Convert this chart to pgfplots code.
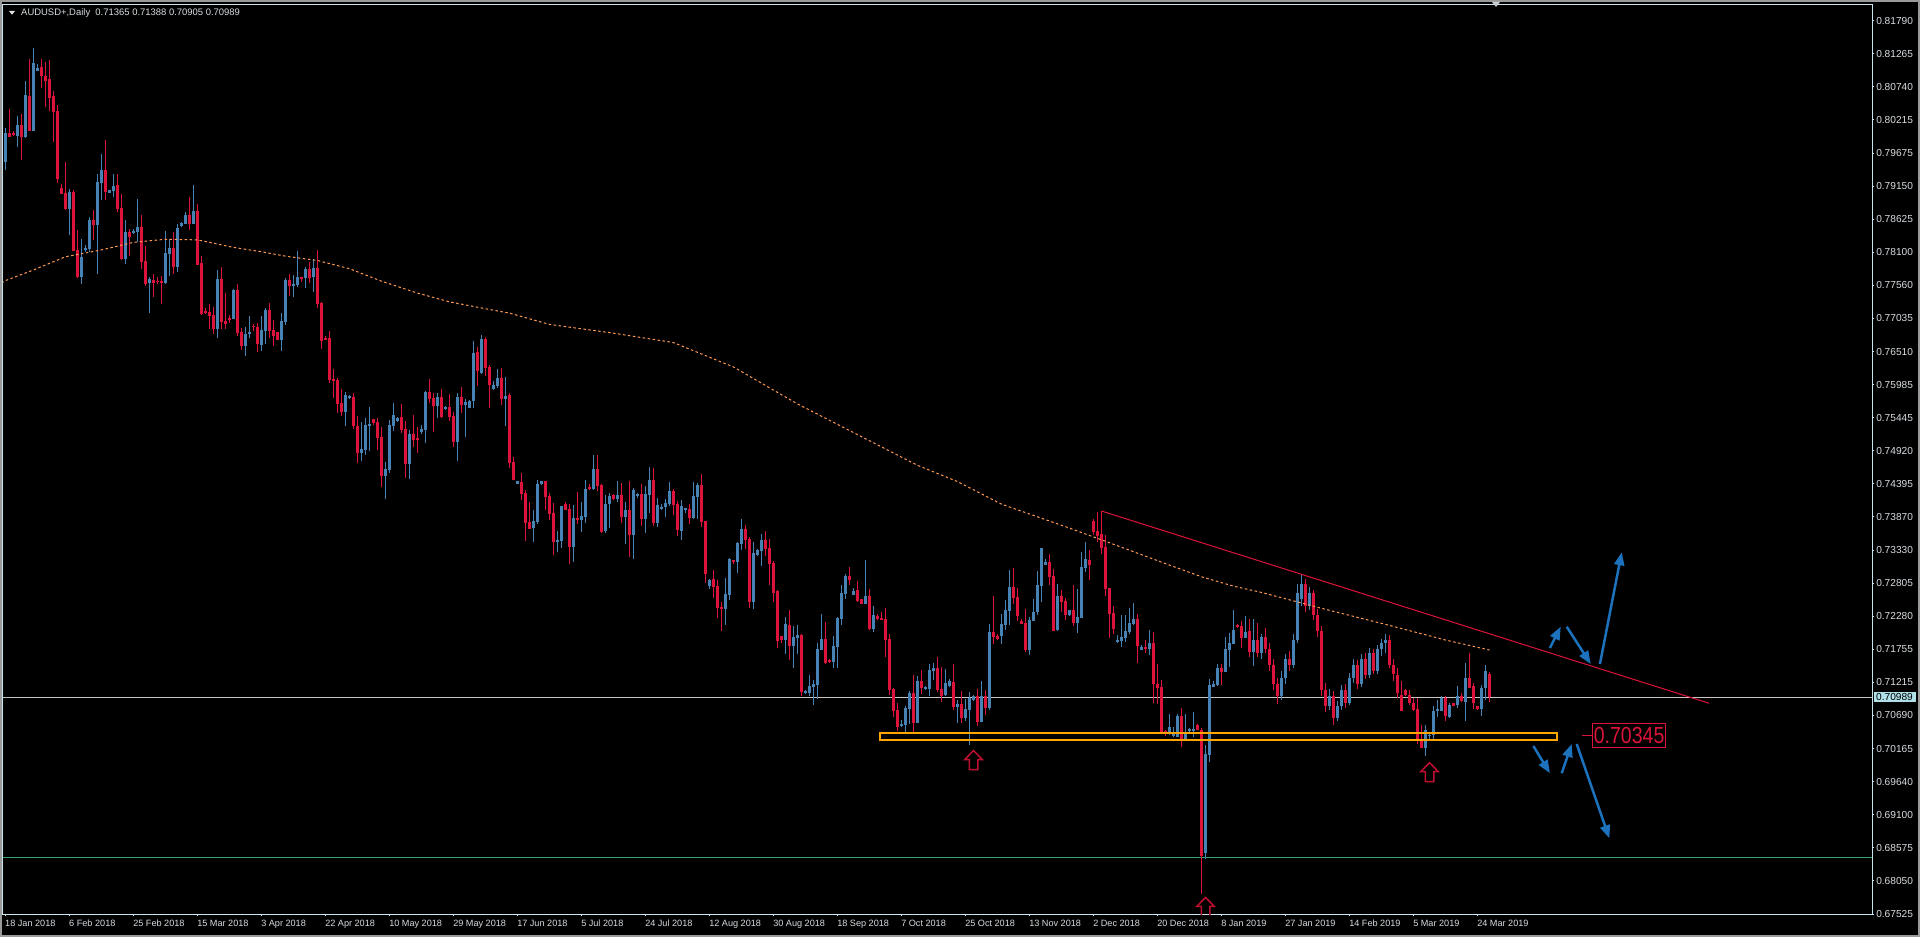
\documentclass[border=0pt]{standalone}
\usepackage{pgfplots}
\pgfplotsset{compat=1.18}
\usepackage{pgfplotstable}
\usepackage{graphicx}
\usepackage{fontspec}
\setmainfont{Liberation Sans}
\usetikzlibrary{arrows.meta}
\definecolor{bull}{HTML}{4682B4}
\definecolor{bear}{HTML}{DC143C}
\definecolor{framec}{HTML}{C9E4EE}
\definecolor{lab}{HTML}{D7DCE0}
\definecolor{maorange}{HTML}{FF9A55}
\definecolor{arrowblue}{HTML}{1C72BD}
\definecolor{zone}{HTML}{FFA500}
\definecolor{pricebox}{HTML}{B0E0E8}
\definecolor{greenline}{HTML}{3AA36A}
\definecolor{winframe}{HTML}{9A9A9A}
\definecolor{upred}{HTML}{C0102F}

\pgfplotstableread{
i o h l c
0 0.7954 0.8007 0.7941 0.8000
3 0.7995 0.8027 0.7978 0.8013
5 0.7993 0.8083 0.7991 0.8060
7 0.8003 0.8135 0.8003 0.8112
8 0.8099 0.8110 0.8098 0.8104
16 0.7879 0.7910 0.7836 0.7906
19 0.7770 0.7831 0.7759 0.7802
20 0.7813 0.7821 0.7810 0.7816
21 0.7815 0.7865 0.7810 0.7861
23 0.7853 0.7934 0.7774 0.7921
24 0.7920 0.7966 0.7892 0.7941
26 0.7904 0.7909 0.7904 0.7909
27 0.7907 0.7935 0.7898 0.7915
30 0.7799 0.7861 0.7790 0.7842
32 0.7840 0.7846 0.7838 0.7843
33 0.7842 0.7894 0.7825 0.7850
36 0.7760 0.7770 0.7713 0.7766
40 0.7761 0.7843 0.7759 0.7808
41 0.7807 0.7831 0.7772 0.7816
43 0.7785 0.7854 0.7777 0.7848
44 0.7851 0.7857 0.7850 0.7856
45 0.7854 0.7874 0.7854 0.7869
47 0.7854 0.7917 0.7854 0.7875
53 0.7687 0.7781 0.7673 0.7767
57 0.7702 0.7751 0.7702 0.7749
60 0.7660 0.7690 0.7644 0.7679
61 0.7678 0.7708 0.7673 0.7682
64 0.7661 0.7708 0.7652 0.7685
65 0.7684 0.7721 0.7663 0.7717
69 0.7669 0.7712 0.7652 0.7700
70 0.7698 0.7769 0.7693 0.7765
72 0.7755 0.7773 0.7738 0.7759
73 0.7757 0.7811 0.7753 0.7770
75 0.7768 0.7785 0.7753 0.7782
77 0.7769 0.7798 0.7745 0.7784
85 0.7554 0.7586 0.7532 0.7581
86 0.7577 0.7581 0.7575 0.7579
89 0.7489 0.7538 0.7476 0.7495
90 0.7494 0.7545 0.7486 0.7533
91 0.7532 0.7562 0.7492 0.7535
95 0.7452 0.7474 0.7415 0.7463
96 0.7462 0.7541 0.7456 0.7533
97 0.7532 0.7569 0.7523 0.7549
98 0.7540 0.7547 0.7539 0.7545
101 0.7471 0.7525 0.7448 0.7519
104 0.7522 0.7533 0.7519 0.7527
105 0.7525 0.7588 0.7504 0.7586
108 0.7564 0.7585 0.7544 0.7578
110 0.7559 0.7564 0.7557 0.7563
113 0.7506 0.7585 0.7476 0.7578
115 0.7566 0.7575 0.7515 0.7571
116 0.7561 0.7574 0.7561 0.7572
117 0.7572 0.7668 0.7561 0.7648
119 0.7617 0.7677 0.7615 0.7671
122 0.7591 0.7604 0.7590 0.7597
123 0.7596 0.7623 0.7593 0.7608
125 0.7575 0.7610 0.7531 0.7580
128 0.7440 0.7444 0.7439 0.7444
132 0.7369 0.7397 0.7347 0.7380
133 0.7379 0.7446 0.7375 0.7439
134 0.7439 0.7444 0.7438 0.7444
138 0.7346 0.7364 0.7331 0.7350
139 0.7348 0.7404 0.7337 0.7404
142 0.7338 0.7406 0.7315 0.7385
144 0.7382 0.7410 0.7363 0.7388
145 0.7387 0.7446 0.7377 0.7431
147 0.7431 0.7486 0.7430 0.7463
150 0.7364 0.7422 0.7361 0.7407
151 0.7407 0.7425 0.7369 0.7420
153 0.7415 0.7444 0.7410 0.7422
155 0.7387 0.7410 0.7343 0.7398
157 0.7358 0.7433 0.7319 0.7430
158 0.7420 0.7425 0.7417 0.7423
160 0.7383 0.7436 0.7361 0.7423
161 0.7422 0.7466 0.7393 0.7446
163 0.7377 0.7417 0.7371 0.7406
164 0.7399 0.7407 0.7398 0.7402
165 0.7402 0.7415 0.7387 0.7409
166 0.7407 0.7442 0.7404 0.7428
169 0.7364 0.7414 0.7350 0.7404
170 0.7399 0.7401 0.7393 0.7400
172 0.7385 0.7442 0.7383 0.7420
173 0.7418 0.7441 0.7383 0.7438
176 0.7276 0.7288 0.7272 0.7286
180 0.7240 0.7289 0.7214 0.7264
181 0.7262 0.7321 0.7254 0.7319
183 0.7315 0.7347 0.7297 0.7345
184 0.7343 0.7383 0.7334 0.7367
187 0.7251 0.7347 0.7240 0.7329
188 0.7326 0.7335 0.7324 0.7334
189 0.7332 0.7359 0.7308 0.7350
195 0.7190 0.7227 0.7168 0.7216
197 0.7181 0.7212 0.7145 0.7195
198 0.7193 0.7214 0.7168 0.7198
200 0.7107 0.7110 0.7104 0.7108
201 0.7106 0.7134 0.7101 0.7117
202 0.7115 0.7126 0.7086 0.7120
203 0.7118 0.7185 0.7096 0.7176
204 0.7174 0.7232 0.7174 0.7192
207 0.7155 0.7197 0.7145 0.7181
208 0.7179 0.7227 0.7145 0.7225
209 0.7224 0.7278 0.7214 0.7265
210 0.7264 0.7296 0.7256 0.7292
212 0.7262 0.7273 0.7262 0.7268
215 0.7248 0.7318 0.7248 0.7260
217 0.7208 0.7244 0.7203 0.7230
224 0.7054 0.7062 0.7051 0.7055
225 0.7054 0.7085 0.7043 0.7082
226 0.7080 0.7109 0.7056 0.7106
228 0.7058 0.7133 0.7058 0.7125
230 0.7113 0.7117 0.7110 0.7114
231 0.7112 0.7152 0.7101 0.7142
232 0.7141 0.7153 0.7126 0.7145
235 0.7102 0.7144 0.7101 0.7121
236 0.7117 0.7128 0.7115 0.7125
238 0.7083 0.7094 0.7058 0.7088
240 0.7066 0.7096 0.7061 0.7080
241 0.7078 0.7107 0.7022 0.7098
242 0.7094 0.7102 0.7093 0.7101
244 0.7059 0.7125 0.7059 0.7101
246 0.7082 0.7216 0.7078 0.7203
249 0.7197 0.7232 0.7184 0.7216
250 0.7214 0.7254 0.7206 0.7238
251 0.7236 0.7302 0.7214 0.7275
256 0.7174 0.7227 0.7166 0.7222
257 0.7220 0.7256 0.7220 0.7235
258 0.7235 0.7300 0.7230 0.7278
259 0.7276 0.7337 0.7251 0.7337
260 0.7310 0.7319 0.7310 0.7315
263 0.7206 0.7280 0.7205 0.7260
266 0.7230 0.7238 0.7228 0.7238
268 0.7217 0.7272 0.7201 0.7227
269 0.7225 0.7331 0.7225 0.7307
270 0.7305 0.7347 0.7299 0.7319
278 0.7187 0.7198 0.7185 0.7190
279 0.7189 0.7230 0.7179 0.7195
280 0.7193 0.7230 0.7187 0.7205
281 0.7203 0.7241 0.7200 0.7217
282 0.7216 0.7249 0.7214 0.7224
284 0.7174 0.7182 0.7174 0.7179
286 0.7176 0.7206 0.7166 0.7185
291 0.7042 0.7072 0.7038 0.7051
292 0.7037 0.7051 0.7035 0.7040
293 0.7035 0.7072 0.7035 0.7069
295 0.7030 0.7072 0.7030 0.7043
296 0.7046 0.7050 0.7043 0.7047
297 0.7045 0.7075 0.7035 0.7048
300 0.6850 0.7022 0.6840 0.7008
301 0.7007 0.7128 0.6995 0.7118
302 0.7115 0.7125 0.7115 0.7120
303 0.7118 0.7152 0.7117 0.7145
305 0.7139 0.7195 0.7139 0.7176
306 0.7174 0.7201 0.7147 0.7185
307 0.7183 0.7238 0.7183 0.7206
310 0.7193 0.7228 0.7193 0.7203
312 0.7171 0.7224 0.7149 0.7190
314 0.7169 0.7200 0.7160 0.7195
319 0.7100 0.7140 0.7095 0.7130
320 0.7130 0.7168 0.7120 0.7160
322 0.7150 0.7200 0.7145 0.7190
323 0.7190 0.7280 0.7185 0.7265
324 0.7255 0.7295 0.7245 0.7280
326 0.7245 0.7275 0.7238 0.7265
331 0.7085 0.7112 0.7078 0.7100
333 0.7065 0.7092 0.7060 0.7085
334 0.7085 0.7118 0.7078 0.7110
336 0.7090 0.7138 0.7086 0.7130
337 0.7130 0.7160 0.7122 0.7150
339 0.7120 0.7168 0.7115 0.7160
341 0.7135 0.7178 0.7130 0.7170
343 0.7140 0.7182 0.7136 0.7175
344 0.7175 0.7192 0.7165 0.7185
345 0.7185 0.7200 0.7170 0.7190
355 0.7018 0.7054 0.7005 0.7047
356 0.7037 0.7044 0.7030 0.7039
357 0.7038 0.7085 0.7030 0.7077
358 0.7076 0.7095 0.7067 0.7080
359 0.7077 0.7101 0.7077 0.7098
361 0.7067 0.7090 0.7065 0.7086
363 0.7086 0.7116 0.7081 0.7100
365 0.7091 0.7154 0.7060 0.7130
369 0.7080 0.7119 0.7068 0.7114
370 0.7114 0.7150 0.7094 0.7141
}\bulltab

\pgfplotstableread{
i o h l c
1 0.7999 0.8038 0.7993 0.7994
2 0.7999 0.8003 0.7995 0.7996
4 0.8013 0.8030 0.7956 0.7994
6 0.8059 0.8118 0.8003 0.8003
9 0.8105 0.8118 0.8072 0.8090
10 0.8091 0.8113 0.8042 0.8083
11 0.8086 0.8116 0.8034 0.8056
12 0.8059 0.8067 0.7986 0.8034
13 0.8035 0.8044 0.7920 0.7927
14 0.7912 0.7918 0.7903 0.7903
15 0.7904 0.7953 0.7877 0.7879
17 0.7906 0.7909 0.7812 0.7812
18 0.7813 0.7845 0.7768 0.7770
22 0.7861 0.7877 0.7828 0.7853
25 0.7941 0.7989 0.7892 0.7906
28 0.7916 0.7934 0.7874 0.7878
29 0.7880 0.7902 0.7797 0.7799
31 0.7842 0.7846 0.7804 0.7834
34 0.7850 0.7869 0.7783 0.7794
35 0.7795 0.7819 0.7756 0.7759
37 0.7765 0.7774 0.7738 0.7761
38 0.7764 0.7770 0.7758 0.7762
39 0.7764 0.7772 0.7726 0.7760
42 0.7816 0.7841 0.7774 0.7786
46 0.7869 0.7898 0.7845 0.7854
48 0.7875 0.7886 0.7789 0.7789
49 0.7792 0.7804 0.7709 0.7711
50 0.7716 0.7720 0.7710 0.7712
51 0.7714 0.7727 0.7687 0.7708
52 0.7709 0.7722 0.7679 0.7686
54 0.7767 0.7786 0.7687 0.7698
55 0.7700 0.7744 0.7687 0.7695
56 0.7705 0.7709 0.7696 0.7702
58 0.7749 0.7759 0.7676 0.7681
59 0.7682 0.7689 0.7653 0.7660
62 0.7692 0.7694 0.7684 0.7690
63 0.7690 0.7696 0.7650 0.7662
66 0.7717 0.7728 0.7672 0.7684
67 0.7685 0.7701 0.7659 0.7676
68 0.7682 0.7682 0.7669 0.7669
71 0.7765 0.7775 0.7740 0.7756
74 0.7770 0.7770 0.7762 0.7767
76 0.7782 0.7793 0.7760 0.7769
78 0.7784 0.7813 0.7720 0.7727
79 0.7728 0.7730 0.7655 0.7668
80 0.7673 0.7676 0.7669 0.7670
81 0.7673 0.7684 0.7600 0.7605
82 0.7607 0.7623 0.7577 0.7604
83 0.7605 0.7608 0.7553 0.7567
84 0.7569 0.7591 0.7548 0.7554
87 0.7578 0.7585 0.7527 0.7531
88 0.7532 0.7548 0.7473 0.7489
92 0.7543 0.7543 0.7533 0.7537
93 0.7538 0.7545 0.7493 0.7513
94 0.7514 0.7530 0.7435 0.7452
99 0.7546 0.7567 0.7521 0.7525
100 0.7527 0.7540 0.7449 0.7471
102 0.7519 0.7549 0.7499 0.7510
103 0.7512 0.7530 0.7489 0.7510
106 0.7586 0.7607 0.7568 0.7575
107 0.7577 0.7585 0.7523 0.7564
109 0.7578 0.7591 0.7544 0.7546
111 0.7562 0.7583 0.7540 0.7546
112 0.7548 0.7554 0.7498 0.7506
114 0.7578 0.7594 0.7553 0.7566
118 0.7650 0.7658 0.7595 0.7619
120 0.7671 0.7674 0.7612 0.7625
121 0.7626 0.7630 0.7561 0.7598
124 0.7608 0.7624 0.7566 0.7575
126 0.7581 0.7584 0.7465 0.7473
127 0.7474 0.7482 0.7445 0.7446
129 0.7442 0.7457 0.7414 0.7424
130 0.7425 0.7429 0.7348 0.7377
131 0.7379 0.7410 0.7368 0.7368
135 0.7444 0.7444 0.7398 0.7419
136 0.7420 0.7425 0.7381 0.7392
137 0.7393 0.7409 0.7325 0.7346
140 0.7407 0.7410 0.7398 0.7398
141 0.7399 0.7407 0.7312 0.7338
143 0.7385 0.7426 0.7376 0.7382
146 0.7434 0.7439 0.7430 0.7431
148 0.7463 0.7486 0.7428 0.7436
149 0.7438 0.7439 0.7361 0.7363
152 0.7422 0.7423 0.7414 0.7415
154 0.7422 0.7441 0.7377 0.7387
156 0.7398 0.7444 0.7323 0.7358
159 0.7423 0.7439 0.7372 0.7383
162 0.7446 0.7465 0.7372 0.7377
167 0.7428 0.7431 0.7390 0.7406
168 0.7407 0.7412 0.7356 0.7366
171 0.7399 0.7407 0.7375 0.7385
174 0.7438 0.7455 0.7370 0.7379
175 0.7380 0.7380 0.7281 0.7296
177 0.7288 0.7302 0.7257 0.7275
178 0.7276 0.7286 0.7225 0.7241
179 0.7243 0.7251 0.7204 0.7240
182 0.7318 0.7318 0.7312 0.7315
185 0.7367 0.7374 0.7335 0.7350
186 0.7351 0.7355 0.7241 0.7251
190 0.7350 0.7364 0.7324 0.7336
191 0.7337 0.7351 0.7278 0.7312
192 0.7313 0.7316 0.7251 0.7265
193 0.7268 0.7270 0.7177 0.7189
194 0.7197 0.7197 0.7186 0.7190
196 0.7214 0.7238 0.7158 0.7181
199 0.7198 0.7200 0.7101 0.7107
205 0.7192 0.7219 0.7152 0.7153
206 0.7158 0.7160 0.7153 0.7155
211 0.7292 0.7307 0.7278 0.7286
213 0.7270 0.7284 0.7251 0.7252
214 0.7256 0.7256 0.7248 0.7248
216 0.7260 0.7272 0.7206 0.7208
218 0.7228 0.7232 0.7222 0.7224
219 0.7225 0.7235 0.7222 0.7222
220 0.7224 0.7241 0.7163 0.7190
221 0.7192 0.7200 0.7102 0.7110
222 0.7112 0.7113 0.7067 0.7077
223 0.7078 0.7090 0.7045 0.7051
227 0.7106 0.7134 0.7043 0.7058
229 0.7125 0.7142 0.7104 0.7113
233 0.7145 0.7163 0.7107 0.7110
234 0.7112 0.7147 0.7091 0.7101
237 0.7123 0.7152 0.7078 0.7083
239 0.7088 0.7109 0.7058 0.7066
243 0.7101 0.7112 0.7053 0.7059
245 0.7101 0.7110 0.7070 0.7082
247 0.7203 0.7260 0.7184 0.7195
248 0.7197 0.7200 0.7190 0.7192
252 0.7275 0.7305 0.7248 0.7257
253 0.7259 0.7273 0.7220 0.7228
254 0.7221 0.7224 0.7216 0.7216
255 0.7217 0.7240 0.7171 0.7174
261 0.7315 0.7327 0.7278 0.7291
262 0.7292 0.7303 0.7205 0.7205
264 0.7260 0.7270 0.7235 0.7251
265 0.7252 0.7257 0.7222 0.7230
267 0.7238 0.7278 0.7212 0.7217
271 0.7318 0.7334 0.7286 0.7310
272 0.7380 0.7383 0.7358 0.7363
273 0.7364 0.7395 0.7347 0.7356
274 0.7359 0.7396 0.7327 0.7337
275 0.7339 0.7358 0.7260 0.7272
276 0.7273 0.7273 0.7193 0.7232
277 0.7233 0.7244 0.7200 0.7208
283 0.7224 0.7232 0.7153 0.7181
285 0.7179 0.7190 0.7169 0.7176
287 0.7185 0.7203 0.7090 0.7120
288 0.7120 0.7152 0.7088 0.7113
289 0.7115 0.7126 0.7042 0.7042
290 0.7045 0.7046 0.7037 0.7042
294 0.7069 0.7082 0.7019 0.7030
298 0.7054 0.7056 0.7046 0.7046
299 0.7046 0.7050 0.6785 0.6845
304 0.7145 0.7152 0.7118 0.7139
308 0.7214 0.7216 0.7209 0.7211
309 0.7212 0.7220 0.7177 0.7193
311 0.7205 0.7224 0.7163 0.7171
313 0.7190 0.7217 0.7163 0.7169
315 0.7195 0.7210 0.7170 0.7175
316 0.7175 0.7185 0.7140 0.7150
317 0.7150 0.7160 0.7110 0.7120
318 0.7120 0.7130 0.7088 0.7100
321 0.7160 0.7172 0.7140 0.7150
325 0.7280 0.7288 0.7235 0.7245
327 0.7265 0.7270 0.7222 0.7230
328 0.7230 0.7240 0.7195 0.7205
329 0.7205 0.7212 0.7100 0.7110
330 0.7110 0.7122 0.7075 0.7085
332 0.7100 0.7108 0.7055 0.7065
335 0.7110 0.7120 0.7082 0.7090
338 0.7150 0.7158 0.7112 0.7120
340 0.7160 0.7170 0.7128 0.7135
342 0.7170 0.7176 0.7135 0.7140
346 0.7190 0.7198 0.7145 0.7150
347 0.7150 0.7160 0.7125 0.7135
348 0.7135 0.7145 0.7098 0.7105
349 0.7102 0.7125 0.7076 0.7077
350 0.7110 0.7112 0.7100 0.7102
351 0.7102 0.7110 0.7086 0.7089
352 0.7089 0.7097 0.7076 0.7078
353 0.7080 0.7097 0.7024 0.7030
354 0.7030 0.7054 0.7017 0.7018
360 0.7098 0.7101 0.7061 0.7068
362 0.7089 0.7089 0.7084 0.7084
364 0.7100 0.7105 0.7091 0.7092
366 0.7130 0.7170 0.7113 0.7114
367 0.7116 0.7121 0.7080 0.7090
368 0.7085 0.7085 0.7079 0.7080
371 0.71365 0.71388 0.70905 0.70989
}\beartab

\pgfplotsset{
  candle/.style n args={2}{draw=none, mark=none, mark size=0pt, mark options={draw=none, fill=none},
    error bars/.cd, y dir=both, y explicit, error mark=none,
    error bar style={draw=#1, line width=#2}},
}

\begin{document}
\begin{tikzpicture}
\fill[black] (0,0) rectangle (768pt,374.8pt);
\draw[winframe, line width=0.8pt] (0.4pt,0.4pt) rectangle (767.6pt,374.4pt);
\begin{axis}[
  at={(1.2pt,9.2pt)}, anchor=south west,
  scale only axis, width=747.6pt, height=363.72pt,
  xmin=-0.625, xmax=466.625, ymin=0.67525, ymax=0.820455,
  axis line style={draw=framec, line width=0.4pt},
  xtick={0,16,...,368},
  xticklabels={18 Jan 2018,6 Feb 2018,25 Feb 2018,15 Mar 2018,3 Apr 2018,22 Apr 2018,10 May 2018,29 May 2018,17 Jun 2018,5 Jul 2018,24 Jul 2018,12 Aug 2018,30 Aug 2018,18 Sep 2018,7 Oct 2018,25 Oct 2018,13 Nov 2018,2 Dec 2018,20 Dec 2018,8 Jan 2019,27 Jan 2019,14 Feb 2019,5 Mar 2019,24 Mar 2019},
  ytick={0.67525,0.68053,0.68582,0.69110,0.69638,0.70167,0.70695,0.71223,0.71752,0.72280,0.72808,0.73337,0.73865,0.74393,0.74922,0.75450,0.75978,0.76507,0.77035,0.77563,0.78092,0.78620,0.79148,0.79677,0.80205,0.80733,0.81262,0.81790},
  yticklabels={0.67525,0.68050,0.68575,0.69100,0.69640,0.70165,0.70690,0.71215,0.71755,0.72280,0.72805,0.73330,0.73870,0.74395,0.74920,0.75445,0.75985,0.76510,0.77035,0.77560,0.78100,0.78625,0.79150,0.79675,0.80215,0.80740,0.81265,0.81790},
  xtick pos=bottom, ytick pos=right, yticklabel pos=right,
  tick align=outside, major tick length=0.9pt,
  tick style={draw=framec, line width=0.4pt},
  xticklabel style={anchor=north west, inner sep=0pt, font=\fontsize{3.65}{4}\selectfont, text=lab, xshift=-0.3pt, yshift=-1.2pt},
  yticklabel style={anchor=west, inner sep=0pt, font=\fontsize{4.06}{4.5}\selectfont, text=lab, xshift=0.6pt},
]
% horizontal lines
\addplot[draw=white!78!black, line width=0.4pt] coordinates {(-1,0.70989) (470,0.70989)};
\addplot[draw=greenline, line width=0.4pt] coordinates {(-1,0.6843) (470,0.6843)};
% wicks
\addplot[candle={bull}{0.4pt}]
  table[x=i, y expr={(\thisrow{h}+\thisrow{l})/2}, y error expr={(\thisrow{h}-\thisrow{l})/2}] {\bulltab};
\addplot[candle={bear}{0.4pt}]
  table[x=i, y expr={(\thisrow{h}+\thisrow{l})/2}, y error expr={(\thisrow{h}-\thisrow{l})/2}] {\beartab};
% bodies
\addplot[candle={bull}{1.2pt}]
  table[x=i, y expr={(\thisrow{o}+\thisrow{c})/2}, y error expr={max(abs(\thisrow{c}-\thisrow{o})/2,0.00008)}] {\bulltab};
\addplot[candle={bear}{1.2pt}]
  table[x=i, y expr={(\thisrow{o}+\thisrow{c})/2}, y error expr={max(abs(\thisrow{c}-\thisrow{o})/2,0.00008)}] {\beartab};
% moving average
\addplot[maorange, line width=0.4pt, dash pattern=on 1pt off 1pt] coordinates {
(-1,0.7760) (0,0.7764) (7,0.7781) (15,0.7802) (24,0.7813) (32,0.7825) (40,0.7830) (48,0.7829)
(57,0.7817) (64,0.7810) (70,0.7803) (78,0.7796) (86,0.7783) (94,0.7763) (103,0.7744)
(111,0.7730) (120,0.7719) (126,0.7712) (136,0.7694) (152,0.7680) (167,0.7665) (182,0.7626)
(198,0.7567) (213,0.7518) (228,0.7469) (238,0.7443) (249,0.7407) (257,0.7389) (265,0.7371)
(274,0.7350) (282,0.7331) (290,0.7312) (299,0.7291) (307,0.7276) (314,0.7266) (330,0.7239)
(345,0.7215) (360,0.7190) (371,0.7174)};
% support zone (foreground object)
\draw[zone, line width=0.8pt] (axis cs:218.7,0.7030) rectangle (axis cs:387.9,0.7042);
% trend line
\addplot[bear, line width=0.4pt] coordinates {(274,0.7396) (425.9,0.7089)};
% price label
\draw[bear, line width=0.4pt] (axis cs:394.2,0.70379) -- (axis cs:396.7,0.70379);
\node[draw=bear, line width=0.4pt, text=bear, inner sep=0pt, minimum width=29.4pt, minimum height=9.76pt,
  font=\fontsize{9.3}{9.3}\selectfont] at (axis cs:405.9,0.70376) {\scalebox{0.84}[1]{0.70345}};
% blue arrows
\begin{scope}[arrowblue, line width=1pt, -{Triangle[width=4pt,length=5.2pt]}]
\draw (axis cs:398.6,0.71517) -- (axis cs:404.05,0.73301);
\draw (axis cs:390.3,0.72113) -- (axis cs:396.3,0.71517);
\draw (axis cs:386.1,0.71773) -- (axis cs:388.8,0.72113);
\draw (axis cs:381.95,0.70208) -- (axis cs:386.1,0.69773);
\draw (axis cs:389.05,0.69773) -- (axis cs:391.55,0.70240);
\draw (axis cs:392.8,0.70240) -- (axis cs:400.95,0.68735);
\end{scope}
% hollow red up arrows
\begin{scope}[upred, line width=0.6pt]
\draw (axis cs:242,0.70135) -- ++(3.5pt,-3.6pt) -- ++(-1.8pt,0pt) -- ++(0pt,-4pt) -- ++(-3.4pt,0pt) -- ++(0pt,4pt) -- ++(-1.8pt,0pt) -- cycle;
\draw (axis cs:356,0.69942) -- ++(3.5pt,-3.6pt) -- ++(-1.8pt,0pt) -- ++(0pt,-4pt) -- ++(-3.4pt,0pt) -- ++(0pt,4pt) -- ++(-1.8pt,0pt) -- cycle;
\draw (axis cs:300,0.67790) -- ++(3.5pt,-3.6pt) -- ++(-1.8pt,0pt) -- ++(0pt,-4pt) -- ++(-3.4pt,0pt) -- ++(0pt,4pt) -- ++(-1.8pt,0pt) -- cycle;
\end{scope}
\coordinate (pb) at (axis cs:466.625,0.70989);
\end{axis}
% current price box
\node[fill=pricebox, text=black, inner sep=0pt, minimum width=16.8pt, minimum height=3.7pt, anchor=west,
  font=\fontsize{4.06}{4.5}\selectfont] at ([xshift=0.4pt]pb) {0.70989};
% title
\fill[white!88!black] (3.6pt,370.4pt) -- (6.0pt,370.4pt) -- (4.8pt,368.9pt) -- cycle;
\node[anchor=west, inner sep=0pt, text=lab, font=\fontsize{3.78}{4.2}\selectfont] at (8.28pt,369.72pt) {AUDUSD+,Daily\ \ 0.71365 0.71388 0.70905 0.70989};
% shift marker
\fill[white!80!black] (596.8pt,374.0pt) -- (600pt,374.0pt) -- (598.4pt,372.0pt) -- cycle;
\pgfresetboundingbox
\path[use as bounding box] (0,0) rectangle (768pt,374.8pt);
\end{tikzpicture}
\end{document}
